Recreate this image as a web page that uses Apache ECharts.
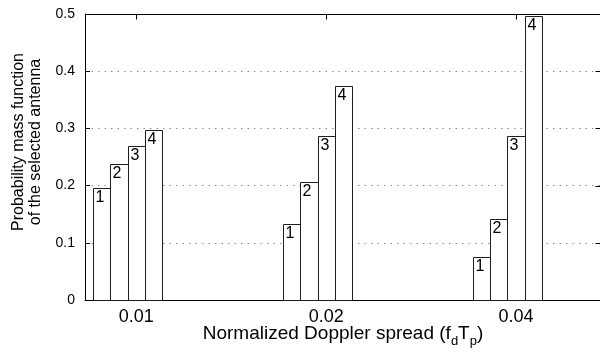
<!DOCTYPE html>
<html>
<head>
<meta charset="utf-8">
<script src="https://cdn.jsdelivr.net/npm/echarts@6/dist/echarts.min.js"></script>
<style>
  html, body { margin: 0; padding: 0; background: #fff; }
  #chart { width: 600px; height: 356px; }
</style>
</head>
<body>
<div id="chart"></div>
<script>
// Normalized Doppler spread groups (x axis) and antenna indices (bar labels)
const categories = ['0.01', '0.02', '0.04'];
const antennaNames = ['1', '2', '3', '4'];

// Probability mass function of the selected antenna, one array per antenna
const pmfAntenna1 = [0.195, 0.133, 0.076];
const pmfAntenna2 = [0.237, 0.206, 0.141];
const pmfAntenna3 = [0.270, 0.286, 0.286];
const pmfAntenna4 = [0.298, 0.375, 0.497];
const antennaSeries = [pmfAntenna1, pmfAntenna2, pmfAntenna3, pmfAntenna4];

// Category positions on the value axis
const groupPositions = [1, 2, 3];
const yTickValues = [0, 0.1, 0.2, 0.3, 0.4, 0.5];

const FONT = '"Liberation Sans", Arial, Helvetica, sans-serif';
const BAR_UNITS = 0.0912;   // bar width in x-axis units
const TICK_LEN = 5;

const xCommon = { type: 'value', min: 0.73, max: 3.447 };
const yCommon = { type: 'value', min: 0, max: 0.5, interval: 0.1 };

function renderBar(params, api) {
  const k = params.seriesIndex;
  const x = api.value(0);
  const v = api.value(1);
  const base = api.coord([x, 0]);
  const top = api.coord([x, v]);
  const w = api.size([BAR_UNITS, 0])[0];
  // the third bar of each group sits on the tick
  const left = base[0] + (k - 2.5) * w;
  const x0 = Math.round(left);
  const x1 = Math.round(left + w);
  const y0 = Math.round(top[1]);
  const y1 = Math.round(base[1]);
  return {
    type: 'group',
    children: [
      {
        type: 'rect',
        shape: { x: x0 + 0.5, y: y0 + 0.5, width: x1 - x0, height: y1 - y0 },
        style: { fill: '#ffffff', stroke: '#1e1e1e', lineWidth: 1 }
      },
      {
        type: 'text',
        style: {
          x: x0 + 2.5, y: y0 + 1.5,
          text: antennaNames[k],
          fontSize: 16, fontFamily: FONT, fill: '#000',
          align: 'left', verticalAlign: 'top'
        }
      }
    ]
  };
}

// Box frame: top edge with inward ticks at the groups, right edge with inward y ticks
function renderFrame(params, api) {
  const tl = api.coord([xCommon.min, yCommon.max]);
  const tr = api.coord([xCommon.max, yCommon.max]);
  const br = api.coord([xCommon.max, yCommon.min]);
  const yT = Math.round(tl[1]) + 0.5;
  const xR = Math.round(tr[0]) - 0.5;
  const st = { stroke: '#000', lineWidth: 1 };
  const children = [
    { type: 'line', shape: { x1: tl[0], y1: yT, x2: tr[0] + 2, y2: yT }, style: st },
    { type: 'line', shape: { x1: xR, y1: yT, x2: xR, y2: br[1] }, style: st }
  ];
  groupPositions.forEach(g => {
    const xx = Math.round(api.coord([g, yCommon.max])[0]) + 0.5;
    children.push({ type: 'line', shape: { x1: xx, y1: yT, x2: xx, y2: yT + TICK_LEN }, style: st });
  });
  yTickValues.forEach(v => {
    const yy = Math.round(api.coord([xCommon.max, v])[1]) + 0.5;
    children.push({ type: 'line', shape: { x1: xR - TICK_LEN, y1: yy, x2: xR, y2: yy }, style: st });
  });
  return { type: 'group', children };
}

const blackLine = { show: true, onZero: false, lineStyle: { color: '#000', width: 1 } };
const innerTicks = { show: true, inside: true, length: TICK_LEN, lineStyle: { color: '#000' } };

const barSeries = antennaSeries.map((vals, k) => ({
  type: 'custom',
  name: antennaNames[k],
  xAxisIndex: 0,
  yAxisIndex: 0,
  renderItem: renderBar,
  encode: { x: 0, y: 1 },
  data: vals.map((v, j) => [groupPositions[j], v])
}));

const frameSeries = {
  type: 'custom',
  name: 'frame',
  xAxisIndex: 0,
  yAxisIndex: 0,
  clip: false,
  silent: true,
  z: 5,
  renderItem: renderFrame,
  encode: { x: 0, y: 1 },
  data: [[groupPositions[0], yCommon.max]]
};

const option = {
  animation: false,
  backgroundColor: '#ffffff',
  textStyle: { fontFamily: FONT },
  grid: {
    left: 85, right: -1, top: 14, bottom: 56,
    containLabel: false, outerBoundsMode: 'none'
  },
  xAxis: [
    Object.assign({}, xCommon, {
      position: 'bottom',
      axisLine: blackLine,
      axisTick: Object.assign({ customValues: groupPositions }, innerTicks),
      axisLabel: {
        customValues: groupPositions,
        formatter: v => categories[Math.round(v) - 1],
        fontSize: 18, color: '#000', margin: 8, fontFamily: FONT
      },
      splitLine: { show: false },
      name: '{n|Normalized Doppler spread (f}{s|d}{n|T}{s|p}{n|)}',
      nameLocation: 'middle',
      nameGap: 24,
      nameMoveOverlap: false,
      nameTextStyle: {
        rich: {
          n: { fontSize: 19, lineHeight: 21, verticalAlign: 'top', color: '#000', fontFamily: FONT },
          s: { fontSize: 13, lineHeight: 13, padding: [11, 0, 0, 0], verticalAlign: 'top', color: '#000', fontFamily: FONT }
        }
      }
    })
  ],
  yAxis: [
    Object.assign({}, yCommon, {
      position: 'left',
      axisLine: blackLine,
      axisTick: innerTicks,
      axisLabel: { fontSize: 14, color: '#000', margin: 10, fontFamily: FONT },
      splitLine: {
        show: true, showMinLine: false, showMaxLine: false,
        lineStyle: { color: '#8c8c8c', width: 1, type: [1.5, 5] }
      }
    }),
    // outer box edges at 0 and 0.5, drawn as the split lines of a bare companion axis
    {
      type: 'value', min: 0, max: 0.5, interval: 0.5,
      position: 'right',
      axisLine: { show: false },
      axisTick: { show: false },
      axisLabel: { show: false },
      splitLine: {
        show: true, showMinLine: true, showMaxLine: true,
        lineStyle: { color: '#000', width: 1, type: 'solid' }
      }
    }
  ],
  graphic: [
    {
      type: 'text',
      x: 27, y: 142,
      rotation: Math.PI / 2,
      style: {
        text: 'Probability mass function\nof the selected antenna',
        fontSize: 16, fontFamily: FONT, fill: '#000',
        align: 'center', verticalAlign: 'middle', lineHeight: 17
      }
    }
  ],
  series: barSeries.concat([frameSeries])
};

const chart = echarts.init(document.getElementById('chart'), null, { renderer: 'canvas' });
chart.setOption(option);
</script>
</body>
</html>
